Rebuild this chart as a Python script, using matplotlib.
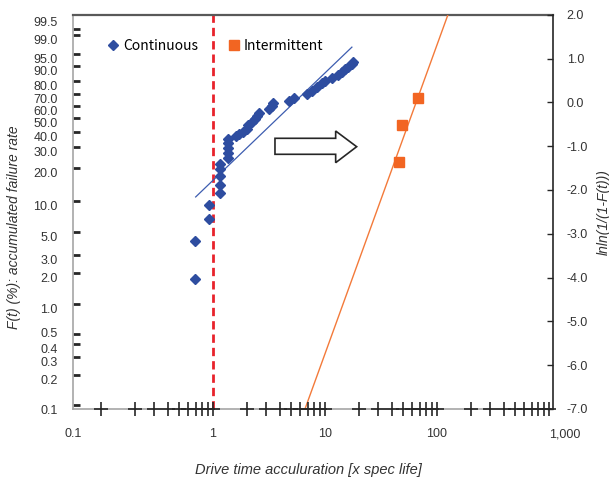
import numpy as np
import matplotlib
matplotlib.use("Agg")
import matplotlib.pyplot as plt
from matplotlib.patches import Polygon
from matplotlib.lines import Line2D
from matplotlib.ticker import NullLocator

# continuous drive: time [x spec life] vs lnln(1/(1-F))
cont_time = [0.69, 0.69, 0.93, 0.93, 1.16, 1.16, 1.16, 1.16, 1.16,
             1.37, 1.37, 1.37, 1.37, 1.37, 1.59, 1.72, 1.86, 2.00, 2.07,
             2.22, 2.37, 2.49, 2.57, 3.18, 3.34, 3.45, 4.77, 5.28, 6.91,
             7.61, 8.43, 9.34, 10.0, 11.5, 13.1, 14.1, 15.1, 16.2, 17.3, 17.9]
cont_lnln = [-4.03, -3.16, -2.67, -2.34, -2.08, -1.88, -1.69, -1.53, -1.40,
             -1.27, -1.16, -1.04, -0.93, -0.84, -0.78, -0.72, -0.67, -0.60, -0.52,
             -0.44, -0.38, -0.31, -0.24, -0.16, -0.08, -0.01, 0.04, 0.10, 0.19,
             0.27, 0.35, 0.43, 0.49, 0.55, 0.62, 0.70, 0.75, 0.81, 0.87, 0.92]
cont_fit_time = [0.70, 17.4]
cont_fit_lnln = [-2.16, 1.26]

# intermittent drive
inter_time = [45.8, 48.4, 68.1]
inter_lnln = [-1.37, -0.52, 0.11]
inter_fit_time = [6.63, 125.4]
inter_fit_lnln = [-7.0, 2.0]

spec_life = 1.0

pct_values = [0.1, 0.2, 0.3, 0.4, 0.5, 1, 2, 3, 5, 10, 20, 30, 40, 50,
              60, 70, 80, 90, 95, 99, 99.5]
pct_labels = ["0.1", "0.2", "0.3", "0.4", "0.5", "1.0", "2.0", "3.0", "5.0",
              "10.0", "20.0", "30.0", "40.0", "50.0", "60.0", "70.0", "80.0",
              "90.0", "95.0", "99.0", "99.5"]
right_ticks = [-7, -6, -5, -4, -3, -2, -1, 0, 1, 2]
x_labels = ["0.1", "1", "10", "100", "1,000"]
x_marks = [m * 10.0 ** d for d in range(-1, 3) for m in range(1, 10)] + [1000]

plt.rcParams["font.family"] = ["Liberation Sans", "DejaVu Sans"]

fig = plt.figure(figsize=(6.09, 4.84), dpi=100)
ax = fig.add_axes([0.1199, 0.155, 0.788, 0.8146])
ax.set_xscale("log")
ax.set_xlim(0.0562, 1086)
ax.set_ylim(-7, 2)

ax.axvline(spec_life, color="#E8222B", lw=2, ls=(0, (3, 1.8)), zorder=2)
ax.plot(cont_fit_time, cont_fit_lnln, color="#3D5DB0", lw=0.9, zorder=3)
ax.plot(inter_fit_time, inter_fit_lnln, color="#F37A3A", lw=1.0, zorder=3)
ax.plot(cont_time, cont_lnln, ls="none", marker="D", ms=5.5,
        color="#2E4DA0", zorder=4)
ax.plot(inter_time, inter_lnln, ls="none", marker="s", ms=6.5,
        color="#F26522", zorder=4)

# pseudo log-axis marks along the bottom
ax.plot(x_marks, [ax.get_ylim()[0]] * len(x_marks), ls="none", marker="+",
        ms=10, mew=1.2, color="#262626", clip_on=False, zorder=6)

# hollow block arrow
ax_x = np.array([275, 335.7, 335.7, 356.7, 335.7, 335.7, 275])
ax_y = np.array([138.3, 138.3, 131, 146.7, 162.7, 154.3, 154.3])
arrow = Polygon(np.column_stack([(ax_x - 73) / 480, (409 - ax_y) / 394.3]),
                closed=True, transform=ax.transAxes, facecolor="white",
                edgecolor="#262626", lw=1.2, zorder=5)
ax.add_patch(arrow)

# left axis: F(t) on weibull scale
ax.set_yticks(np.log(-np.log(1 - np.array(pct_values) / 100)))
ax.set_yticklabels(pct_labels)
ylabs = ax.get_yticklabels()
for lab in ylabs:
    lab.set_verticalalignment("top")
ylabs[4].set_verticalalignment("center")
ylabs[-1].set_verticalalignment("bottom")
ax.tick_params(axis="y", direction="in", length=5, width=2, color="#262626",
               pad=11, labelsize=9, labelcolor="#333333")

xt = [ax.get_xlim()[0], 1, 10, 100, 1000]
ax.set_xticks(xt)
ax.set_xticklabels(x_labels)
ax.xaxis.set_minor_locator(NullLocator())
ax.tick_params(axis="x", length=0, pad=14, labelsize=9, labelcolor="#333333")
ax.get_xticklabels()[-1].set_horizontalalignment("left")

for s in ("left", "bottom"):
    ax.spines[s].set_color("#A6A6A6")
    ax.spines[s].set_linewidth(1.2)
ax.spines["top"].set_color("#595959")
ax.spines["top"].set_linewidth(1.6)
ax.spines["right"].set_visible(False)

ax.set_ylabel("F(t) (%): accumulated failure rate", style="italic", fontsize=10,
              color="#333333")
ax.yaxis.set_label_coords(-0.108, 0.46)
ax.set_xlabel("Drive time acculuration [x spec life]", style="italic",
              fontsize=10.5, color="#333333")
ax.xaxis.set_label_coords(0.49, -0.137)

ax2 = ax.twinx()
ax2.set_ylim(ax.get_ylim())
ax2.set_yticks(right_ticks)
ax2.set_yticklabels([f"{v:.1f}" for v in right_ticks])
ax2.tick_params(axis="y", direction="in", length=4, width=1, color="#262626",
                pad=10, labelsize=9, labelcolor="#333333")
for s in ("left", "bottom", "top"):
    ax2.spines[s].set_visible(False)
ax2.spines["right"].set_color("#262626")
ax2.spines["right"].set_linewidth(1.2)
ax2.set_ylabel("lnln(1/(1-F(t)))", style="italic", fontsize=10,
               color="#333333", labelpad=6)

handles = [Line2D([], [], ls="none", marker="D", ms=5.5, color="#2E4DA0"),
           Line2D([], [], ls="none", marker="s", ms=6.5, color="#F26522")]
ax.legend(handles, ["Continuous", "Intermittent"], loc="center left",
          bbox_to_anchor=(0.072, 0.9206), ncol=2, frameon=False,
          handlelength=0.8, handletextpad=0.3, columnspacing=2.2,
          borderpad=0, borderaxespad=0,
          prop={"family": ["Noto Sans CJK JP", "DejaVu Sans"], "size": 10})

fig.savefig("out.png", dpi=100)
